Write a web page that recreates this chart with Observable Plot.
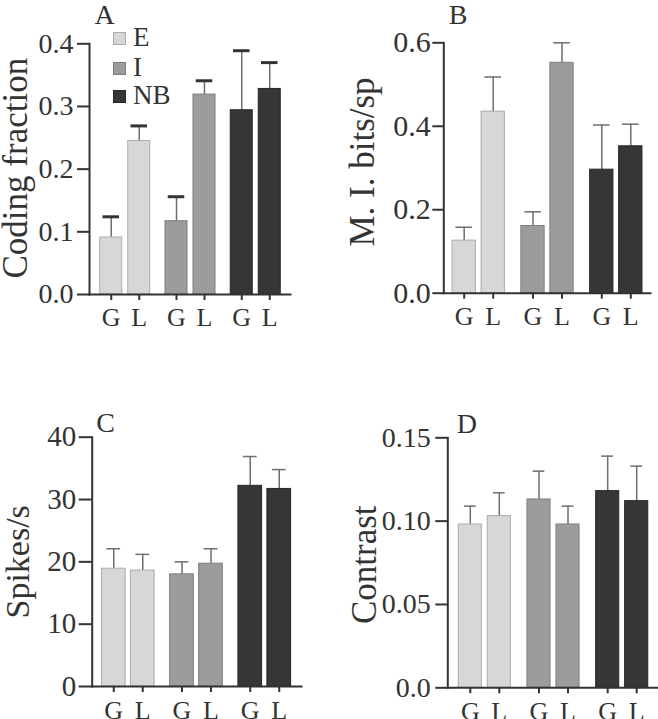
<!DOCTYPE html>
<html>
<head>
<meta charset="utf-8">
<script src="https://cdn.jsdelivr.net/npm/d3@7"></script>
<script src="https://cdn.jsdelivr.net/npm/@observablehq/plot@0.6"></script>
<style>
html, body { margin: 0; padding: 0; background: #fff; }
#fig { position: relative; width: 658px; height: 719px; overflow: hidden;
       font-family: "Liberation Serif", "Times New Roman", serif; color: #333; }
.panel { position: absolute; }
.leg { position: absolute; left: 113px; font-size: 27px; line-height: 1; }
.leg .sw { position: absolute; width: 13px; height: 13px; box-sizing: border-box; border: 1px solid; }
.leg .tx { position: absolute; left: 20px; white-space: nowrap; }
</style>
</head>
<body>
<div id="fig"></div>
<script>
// ---- data ----
const groups = ["E", "I", "NB"];
const conditions = ["G", "L"];

const codingFraction    = [0.091, 0.245, 0.117, 0.319, 0.294, 0.328];
const codingFractionErr = [0.033, 0.024, 0.039, 0.022, 0.095, 0.042];
const codingTicks = [0, 0.1, 0.2, 0.3, 0.4];

const mutualInfo    = [0.126, 0.435, 0.161, 0.552, 0.296, 0.352];
const mutualInfoErr = [0.032, 0.083, 0.034, 0.048, 0.107, 0.053];
const mutualTicks = [0, 0.2, 0.4, 0.6];

const spikeRate    = [18.9, 18.6, 18.0, 19.7, 32.2, 31.7];
const spikeRateErr = [3.2, 2.6, 2.0, 2.4, 4.7, 3.1];
const spikeTicks = [0, 10, 20, 30, 40];

const contrast    = [0.098, 0.103, 0.113, 0.098, 0.118, 0.112];
const contrastErr = [0.011, 0.014, 0.017, 0.011, 0.021, 0.021];
const contrastTicks = [0, 0.05, 0.10, 0.15];

const fills   = {E: "#d7d7d7", I: "#9c9c9c", NB: "#363636"};
const strokes = {E: "#ababab", I: "#7e7e7e", NB: "#262626"};
const ink = "#333";

function makePanel(cfg) {
  const rows = [];
  groups.forEach((g, gi) => conditions.forEach((c, ci) => {
    const i = gi * conditions.length + ci;
    rows.push({key: g + "-" + c, group: g, cond: c, value: cfg.values[i], hi: cfg.values[i] + cfg.errors[i]});
  }));
  const keys = rows.map(r => r.key);
  const marks = [];
  groups.forEach((g, gi) => {
    const sub = rows.filter(r => r.group === g);
    const dx = (gi - 1) * cfg.groupShift;
    marks.push(Plot.ruleX(sub, {x: "key", y1: "value", y2: "hi", dx, stroke: "#6e6e6e", strokeWidth: 1.5}));
    marks.push(Plot.tickY(sub, {x: "key", y: "hi", dx, stroke: cfg.capColor, strokeWidth: cfg.capStroke,
      insetLeft: cfg.capInset, insetRight: cfg.capInset}));
    marks.push(Plot.barY(sub, {x: "key", y: "value", dx, fill: fills[g], stroke: strokes[g], strokeWidth: 1,
      insetLeft: cfg.barInset, insetRight: cfg.barInset}));
    marks.push(Plot.axisX(sub.map(r => r.key), {dx, tickSize: 6, tickPadding: cfg.xTickPad, fontSize: cfg.xFont,
      tickFormat: k => k.split("-")[1], color: ink, strokeWidth: 2, label: null}));
  });
  marks.push(Plot.axisY(cfg.ticks, {tickSize: cfg.yTickSize, tickPadding: cfg.yTickPad, fontSize: cfg.yFont,
    tickFormat: cfg.fmt, color: ink, strokeWidth: 2, label: null}));
  marks.push(Plot.frame({anchor: "left", stroke: ink, strokeWidth: 2}));
  marks.push(Plot.frame({anchor: "bottom", stroke: ink, strokeWidth: 2}));
  marks.push(Plot.text([cfg.label], {frameAnchor: "left", rotate: -90, textAnchor: "middle", lineAnchor: "top",
    dx: cfg.labelDx, dy: cfg.labelDy, fontSize: cfg.labelFont, fill: ink}));
  marks.push(Plot.text([cfg.letter], {frameAnchor: "top-left", textAnchor: "start", lineAnchor: "top",
    dx: cfg.letterDx, dy: cfg.letterDy, fontSize: 28, fill: ink}));

  const svg = Plot.plot({
    width: cfg.width, height: cfg.height,
    marginLeft: cfg.mL, marginRight: cfg.mR, marginTop: cfg.mT, marginBottom: cfg.mB,
    style: {fontFamily: "'Liberation Serif', 'Times New Roman', serif", background: "transparent", overflow: "visible"},
    x: {type: "band", domain: keys, range: cfg.xRange, padding: 0, axis: null},
    y: {domain: cfg.yDomain, axis: null},
    marks
  });
  const div = document.createElement("div");
  div.className = "panel";
  div.style.left = cfg.left + "px";
  div.style.top = cfg.top + "px";
  div.appendChild(svg);
  document.getElementById("fig").appendChild(div);
}

makePanel({
  left: 0, top: 0, width: 329, height: 360, mL: 89, mR: 39, mT: 43.3, mB: 66,
  values: codingFraction, errors: codingFractionErr, ticks: codingTicks, yDomain: [0, 0.4],
  fmt: d => d.toFixed(1), xRange: [104.5, 275.5], groupShift: 9.25, barInset: 3, capInset: 5.75,
  capColor: "#333", capStroke: 3, yTickSize: 12, yTickPad: 4, yFont: 28, xFont: 26, xTickPad: 7,
  label: "Coding fraction", labelDx: -87, labelDy: -1, labelFont: 35, letter: "A", letterDx: 5, letterDy: -40
});
makePanel({
  left: 329, top: 0, width: 329, height: 360, mL: 114.3, mR: 8, mT: 42.3, mB: 67.3,
  values: mutualInfo, errors: mutualInfoErr, ticks: mutualTicks, yDomain: [0, 0.6],
  fmt: d => d.toFixed(1), xRange: [130.4, 305.6], groupShift: 10.8, barInset: 2.85, capInset: 6.2,
  capColor: "#6e6e6e", capStroke: 1.5, yTickSize: 11, yTickPad: 2, yFont: 30, xFont: 26, xTickPad: 7,
  label: "M. I. bits/sp", labelDx: -95, labelDy: -6, labelFont: 35, letter: "B", letterDx: 5, letterDy: -39
});
makePanel({
  left: 0, top: 360, width: 329, height: 359, mL: 91.7, mR: 28, mT: 76.7, mB: 33,
  values: spikeRate, errors: spikeRateErr, ticks: spikeTicks, yDomain: [0, 40],
  fmt: d => String(d), xRange: [108.5, 284.3], groupShift: 10.25, barInset: 2.65, capInset: 7.6,
  capColor: "#6e6e6e", capStroke: 1.5, yTickSize: 13, yTickPad: 3, yFont: 29, xFont: 26, xTickPad: 8,
  label: "Spikes/s", labelDx: -87, labelDy: 0, labelFont: 34, letter: "C", letterDx: 4, letterDy: -25
});
makePanel({
  left: 329, top: 360, width: 329, height: 359, mL: 118.3, mR: 0, mT: 77.3, mB: 31.7,
  values: contrast, errors: contrastErr, ticks: contrastTicks, yDomain: [0, 0.15],
  fmt: d => d === 0 ? "0.0" : d.toFixed(2), xRange: [135.9, 311.1], groupShift: 10.7, barInset: 2.95, capInset: 8.6,
  capColor: "#6e6e6e", capStroke: 1.5, yTickSize: 12, yTickPad: 5, yFont: 28, xFont: 26, xTickPad: 8,
  label: "Contrast", labelDx: -97, labelDy: 2, labelFont: 35, letter: "D", letterDx: 9, letterDy: -25
});

// legend (panel A)
const leg = document.createElement("div");
leg.className = "leg";
leg.style.top = "0px";
const legTops = [32, 62, 90];
groups.forEach((g, i) => {
  const sw = document.createElement("div");
  sw.className = "sw";
  sw.style.top = legTops[i] + "px";
  sw.style.background = fills[g];
  sw.style.borderColor = strokes[g];
  const tx = document.createElement("div");
  tx.className = "tx";
  tx.style.top = (legTops[i] - 8) + "px";
  tx.textContent = g;
  leg.appendChild(sw);
  leg.appendChild(tx);
});
document.getElementById("fig").appendChild(leg);
</script>
</body>
</html>
